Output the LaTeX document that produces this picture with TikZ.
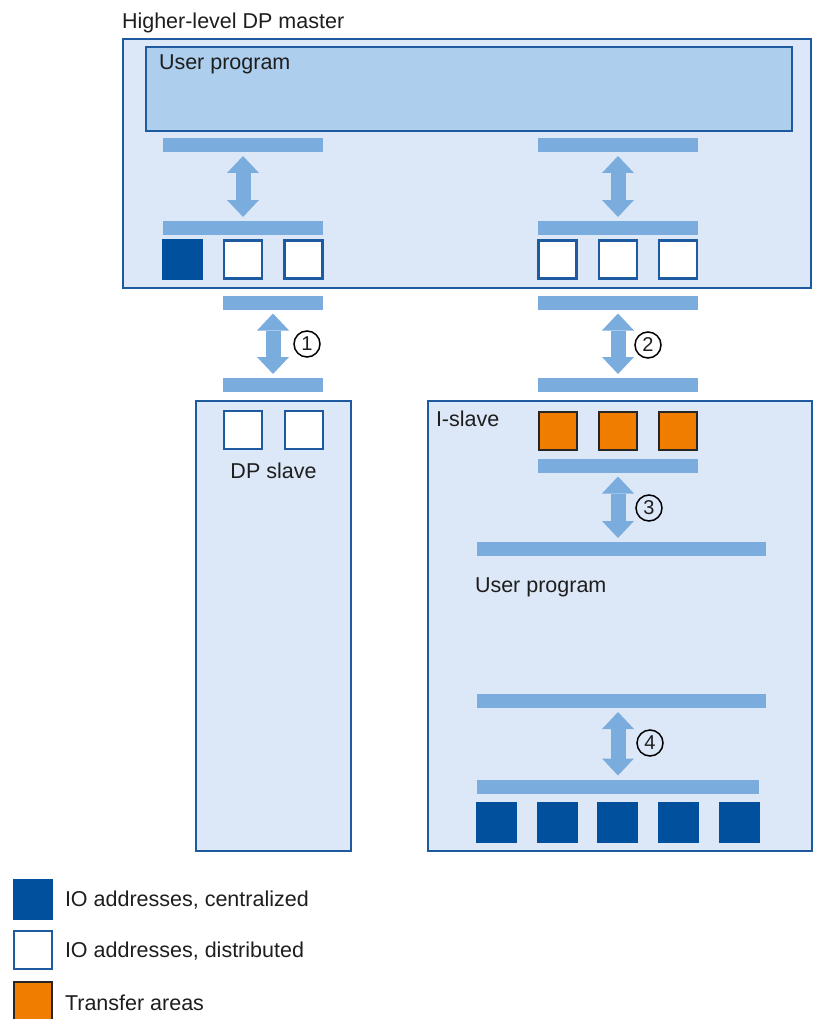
\documentclass[tikz,border=0pt]{standalone}
\usepackage{fontspec}
\setmainfont{Liberation Sans}
\usetikzlibrary{arrows.meta}
\definecolor{bgblue}{HTML}{DCE8F7}
\definecolor{upblue}{HTML}{ADCEED}
\definecolor{barblue}{HTML}{7AADDE}
\definecolor{bordblue}{HTML}{1E5AA0}
\definecolor{darkblue}{HTML}{00509E}
\definecolor{orangefill}{HTML}{F07D00}
\definecolor{txt}{HTML}{1E1E1E}
\begin{document}
\begin{tikzpicture}[x=1pt,y=-1pt,
  every node/.style={inner sep=0pt, outer sep=0pt},
  lbl/.style={text=txt, font=\fontsize{21.5}{26}\selectfont},
  unit/.style={draw=bordblue, fill=bgblue, line width=2.5pt, rectangle},
  upbox/.style={draw=bordblue, fill=upblue, line width=2.5pt, rectangle},
  bar/.style={fill=barblue, rectangle, minimum height=14pt},
  sqc/.style={fill=darkblue, rectangle, minimum width=41pt, minimum height=41pt},
  sqd/.style={draw=bordblue, fill=white, line width=2.2pt, rectangle, minimum width=38pt, minimum height=38pt},
  sqt/.style={draw=black!85, fill=orangefill, line width=2pt, rectangle, minimum width=38pt, minimum height=38pt},
  numc/.style={circle, draw=black, line width=1.5pt, minimum size=26pt, font=\fontsize{20}{22}\selectfont, text=txt},
  dbl/.style={draw=barblue, line width=15pt,
    {Triangle[length=17pt,width=32pt,line width=0pt]}-{Triangle[length=17pt,width=32pt,line width=0pt]},
    shorten <=4pt, shorten >=4pt}
]
\useasboundingbox[fill=white] (0,0) rectangle (815,1019);

% ---------------- Master ----------------
\node[lbl, anchor=base west] (title) at (122,29) {Higher-level DP master};
\node[unit, minimum width=688pt, minimum height=249pt] (master) at (467,163.5) {};
\node[upbox, minimum width=646pt, minimum height=84pt] (mup) at (469,89) {};
\node[lbl, anchor=base west] (muptxt) at (159,70) {User program};

\node[bar, minimum width=160pt] (mlb1) at (243,145) {};
\node[bar, minimum width=160pt] (mlb2) at (243,228) {};
\node[sqc] (ml1) at (182.5,259.5) {};
\node[sqd] (ml2) at (243,259.5) {};
\node[sqd] (ml3) at (303.5,259.5) {};
\draw[dbl] (mlb1.south) -- (mlb2.north);

\node[bar, minimum width=160pt] (mrb1) at (618,145) {};
\node[bar, minimum width=160pt] (mrb2) at (618,228) {};
\node[sqd] (mr1) at (557.5,259.5) {};
\node[sqd] (mr2) at (618,259.5) {};
\node[sqd] (mr3) at (678,259.5) {};
\draw[dbl] (mrb1.south) -- (mrb2.north);

% ---------------- Link 1 ----------------
\node[bar, minimum width=100pt] (l1a) at (273,302.5) {};
\node[bar, minimum width=100pt] (l1b) at (273,385) {};
\draw[dbl] (l1a.south) -- (l1b.north);
\node[numc] (n1) at (307,344) {1};

% ---------------- Link 2 ----------------
\node[bar, minimum width=160pt] (l2a) at (618,302.5) {};
\node[bar, minimum width=160pt] (l2b) at (618,385) {};
\draw[dbl] (l2a.south) -- (l2b.north);
\node[numc] (n2) at (648,345) {2};

% ---------------- DP slave ----------------
\node[unit, minimum width=155pt, minimum height=450pt] (dps) at (273.5,626) {};
\node[sqd] (ds1) at (243,430) {};
\node[sqd] (ds2) at (304,430) {};
\node[lbl, anchor=base] (dpstxt) at (273.5,478) {DP slave};

% ---------------- I-slave ----------------
\node[unit, minimum width=384pt, minimum height=450pt] (islv) at (620,626) {};
\node[lbl, anchor=base west] (islvtxt) at (436,426) {I-slave};
\node[sqt] (t1) at (557.5,430.5) {};
\node[sqt] (t2) at (618,430.5) {};
\node[sqt] (t3) at (678,430.5) {};
\node[bar, minimum width=160pt] (ib1) at (618,465.5) {};
\node[bar, minimum width=289pt] (ib2) at (621.5,549) {};
\draw[dbl] (ib1.south) -- (ib1.south |- ib2.north);
\node[numc] (n3) at (649,508) {3};
\node[lbl, anchor=base west] (iuptxt) at (475,592) {User program};
\node[bar, minimum width=289pt] (ib3) at (621.5,701) {};
\node[bar, minimum width=282pt] (ib4) at (618,786.5) {};
\draw[dbl] (ib4.north |- ib3.south) -- (ib4.north);
\node[numc] (n4) at (650,743) {4};
\node[sqc] (ic1) at (496.5,822.5) {};
\node[sqc] (ic2) at (557.5,822.5) {};
\node[sqc] (ic3) at (617.5,822.5) {};
\node[sqc] (ic4) at (678,822.5) {};
\node[sqc] (ic5) at (739,822.5) {};

% ---------------- Legend ----------------
\node[sqc, minimum width=40pt, minimum height=41pt] (lg1) at (33,899.5) {};
\node[lbl, anchor=west] (lg1t) at (65,900) {IO addresses, centralized};
\node[sqd] (lg2) at (33,950) {};
\node[lbl, anchor=west] (lg2t) at (65,951) {IO addresses, distributed};
\node[sqt] (lg3) at (33,1001) {};
\node[lbl, anchor=west] (lg3t) at (65,1003) {Transfer areas};
\end{tikzpicture}
\end{document}
